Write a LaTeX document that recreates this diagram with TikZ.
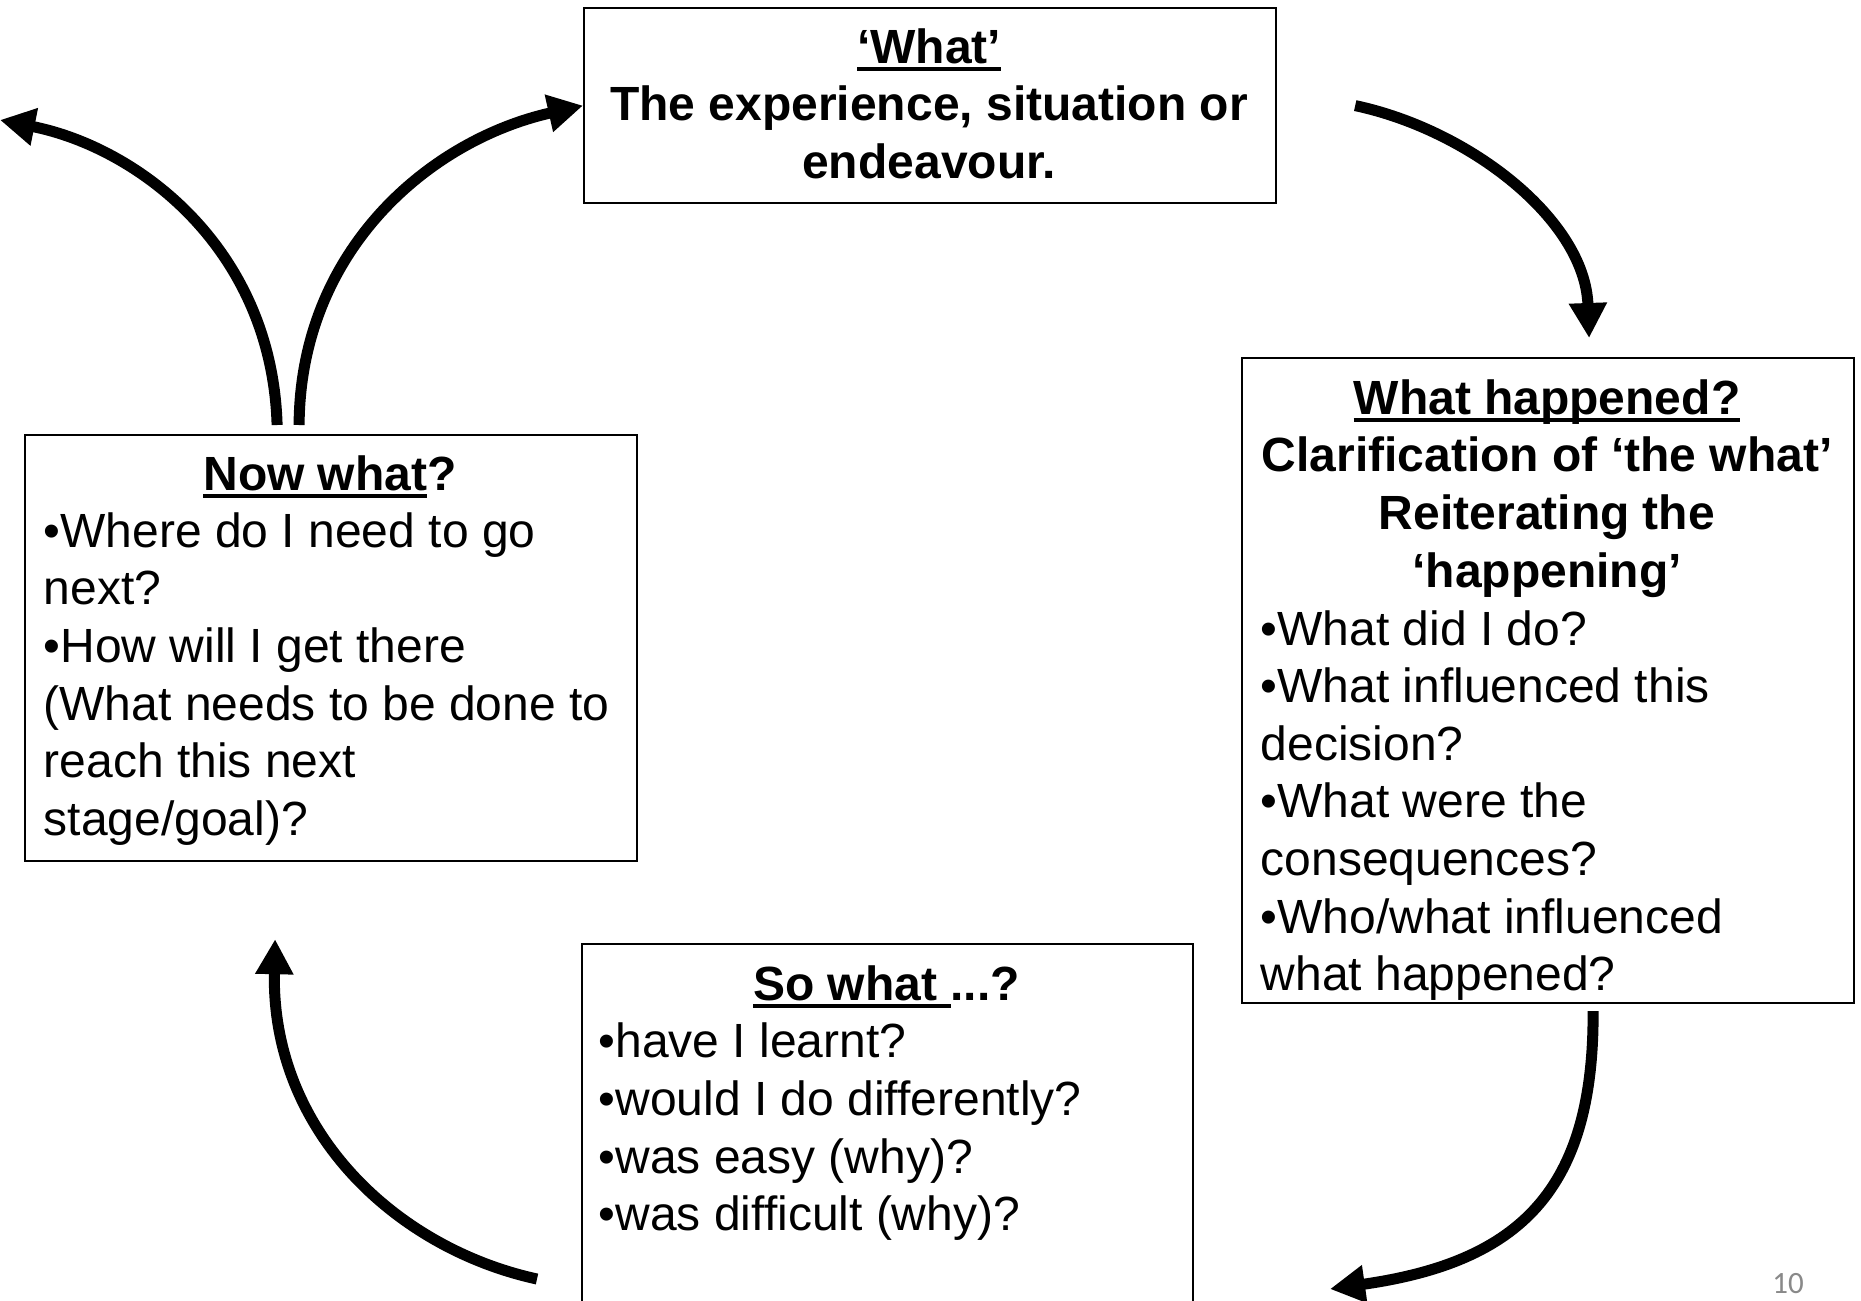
\documentclass[tikz,border=0pt]{standalone}
\usepackage{fontspec}
\setmainfont{Liberation Sans}
\newfontfamily\pgnumfont{Carlito}
\usetikzlibrary{arrows.meta}
\definecolor{pagegray}{RGB}{137,137,137}
\newcommand\myul[1]{\setbox0\hbox{#1}\rlap{\rule[-7.5pt]{\wd0}{3.5pt}}\box0}
\begin{document}
\begin{tikzpicture}[x=1pt,y=-1pt,
  box/.style={draw, line width=2.2pt, inner sep=0pt, anchor=north west},
  txt/.style={inner sep=0pt, font=\fontsize{48}{57.6}\selectfont},
  txtb/.style={inner sep=0pt, font=\fontsize{48}{57.6}\selectfont\bfseries},
  flow/.style={line width=11pt, -{Triangle[length=35pt,width=36pt]}}]
\useasboundingbox (0,0) rectangle (1861,1301);
% boxes
\node[box, minimum width=692pt, minimum height=195pt] (what) at (583,7) {};
\node[box, minimum width=612pt, minimum height=645pt] (whathap) at (1241,357) {};
\node[box, minimum width=612pt, minimum height=426pt] (nowwhat) at (24,434) {};
\node[box, minimum width=611pt, minimum height=420pt] (sowhat) at (581,943) {};
% texts
\node[txtb, align=center, anchor=north] (whatT) at (929,22.7)
  {\strut\myul{‘What’}\\The experience, situation or\\endeavour.};
\node[txtb, align=center, anchor=north] (whathapT) at (1547,373.7)
  {\strut\myul{What happened?}\\Clarification of ‘the what’\\Reiterating the\\‘happening’};
\node[txt, align=left, anchor=north west] (whathapB) at (1260.5,604.5)
  {\strut•What did I do?\\•What influenced this\\decision?\\•What were the\\consequences?\\•Who/what influenced\\what happened?};
\node[txtb, align=center, anchor=north] (nowwhatT) at (330,449.7)
  {\strut\myul{Now what}?};
\node[txt, align=left, anchor=north west] (nowwhatB) at (43.5,506.7)
  {\strut•Where do I need to go\\next?\\•How will I get there\\(What needs to be done to\\reach this next\\stage/goal)?};
\node[txtb, align=center, anchor=north] (sowhatT) at (886.5,959.7)
  {\strut\myul{So what }...?};
\node[txt, align=left, anchor=north west] (sowhatB) at (598.5,1017.3)
  {\strut•have I learnt?\\•would I do differently?\\•was easy (why)?\\•was difficult (why)?};
\node[font=\pgnumfont\fontsize{31}{32}\selectfont, text=pagegray, anchor=base, inner sep=0pt] (pg) at (1788,1293) {10};
% free ends
\coordinate (aEnd) at (0,120);
\coordinate (dEnd) at (1330,1289);
\coordinate (eStart) at (537,1279);
% connectors
\draw[flow] ([xshift=-54pt,yshift=9pt]nowwhat.north) .. controls (272,250) and (140,148) .. (aEnd);
\draw[flow] ([xshift=-32pt,yshift=9pt]nowwhat.north) .. controls (300,250) and (430,140) .. (what.west);
\draw[flow] ([xshift=78pt]what.east) .. controls (1470,130) and (1585,220) .. ([xshift=41pt,yshift=19pt]whathap.north);
\draw[flow] ([xshift=45pt,yshift=-7pt]whathap.south) .. controls (1594,1190) and (1520,1262) .. (dEnd);
\draw[flow] (eStart) .. controls (395,1248) and (271,1130) .. ([xshift=-56pt,yshift=-77pt]nowwhat.south);
\end{tikzpicture}
\end{document}
